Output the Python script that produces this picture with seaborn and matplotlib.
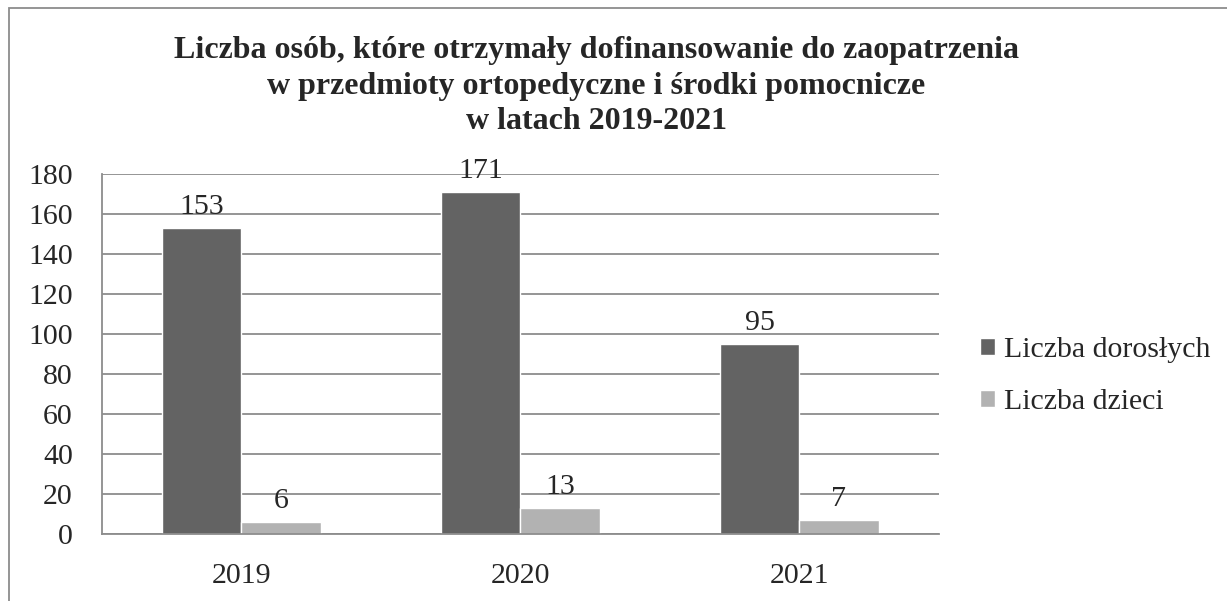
import matplotlib
matplotlib.use("Agg")
import matplotlib.pyplot as plt
import matplotlib.patches as mpatches
import pandas as pd
import seaborn as sns

# values
lata = ["2019", "2020", "2021"]
dorosli = [153, 171, 95]
dzieci = [6, 13, 7]
serie = ["Liczba dorosłych", "Liczba dzieci"]

df = pd.DataFrame({
    "rok": lata * 2,
    "liczba": dorosli + dzieci,
    "seria": [serie[0]] * len(lata) + [serie[1]] * len(lata),
})

sns.set_style("white")
plt.rcParams["font.family"] = ["Liberation Serif", "DejaVu Serif"]

grid_col = "#8c8c8c"
fs = 21.5

fig = plt.figure(figsize=(12.27, 6.01), dpi=100)
ax = fig.add_axes([102 / 1227, 67 / 601, (938.7 - 102) / 1227, 360 / 601])

sns.barplot(data=df, x="rok", y="liczba", hue="seria",
            palette=["#636363", "#b2b2b2"], width=0.57, gap=0,
            saturation=1, ax=ax, legend=True)

ax.set_ylim(0, 180)
ax.set_yticks(range(0, 181, 20))
ax.set_xlim(-0.5, 2.5)
ax.yaxis.grid(True, color=grid_col, linewidth=1.3)
ax.set_axisbelow(True)
ax.set_xlabel("")
ax.set_ylabel("")
for s in ["top", "right"]:
    ax.spines[s].set_visible(False)
for s in ["left", "bottom"]:
    ax.spines[s].set_color(grid_col)
    ax.spines[s].set_linewidth(1.3)
ax.tick_params(axis="y", length=0, pad=21, labelsize=fs)
ax.tick_params(axis="x", length=0, pad=21, labelsize=fs)

for cont in ax.containers:
    ax.bar_label(cont, padding=6, fontsize=fs)

handles, labels = ax.get_legend_handles_labels()
ax.get_legend().remove()
fig.legend(handles, labels, loc="center left",
           bbox_to_anchor=(953 / 1227, 1 - 376 / 601),
           frameon=False, fontsize=fs, handlelength=0.5, handleheight=0.5,
           handletextpad=0.3, labelspacing=0.85)

fig.text(596 / 1227, 1 - 36 / 601,
         "Liczba osób, które otrzymały dofinansowanie do zaopatrzenia\n"
         "w przedmioty ortopedyczne i środki pomocnicze\n"
         "w latach 2019-2021",
         ha="center", va="top", fontsize=23, fontweight="bold",
         linespacing=1.3)

# outer chart border (only left and top edges fall inside the picture)
fig.patches.append(mpatches.Rectangle((9 / 1227, -0.2), 1.2, 1.2 - 8 / 601,
                                      transform=fig.transFigure, fill=False,
                                      edgecolor=grid_col, linewidth=1.3))

fig.savefig("out.png", dpi=100)
